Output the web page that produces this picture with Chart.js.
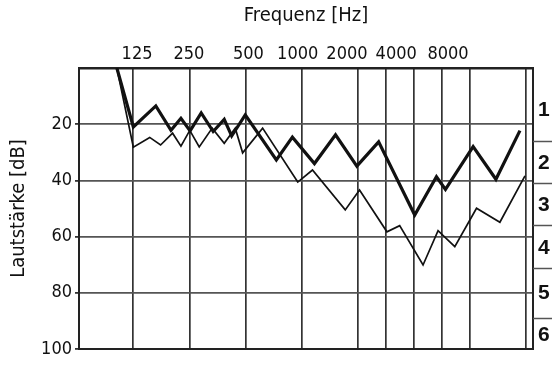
<!DOCTYPE html>
<html lang="de">
<head>
<meta charset="UTF-8">
<title>Audiogramm</title>
<script src="https://cdn.jsdelivr.net/npm/chart.js"></script>
<style>
    body { margin: 0; background: #ffffff; }
    canvas { display: block; }
</style>
</head>
<body>
<canvas id="chart" width="560" height="381"></canvas>
<script>
    // Frequenzen (Hz) und Pegel (dB) der beiden Kurven
    const boldFreq = [102, 125, 165, 199, 225, 252, 289, 335, 384, 421, 498, 731, 891, 1170, 1518, 1975, 2585, 4036, 5278, 5900, 8303, 11000, 14800];
    const boldDb   = [0, 21, 13.5, 22.2, 17.9, 22.4, 16, 22.6, 18.3, 24.2, 16.7, 32.7, 24.6, 34, 23.8, 34.9, 26.3, 52.3, 38.7, 43.2, 28, 39.6, 22.3];
    const thinFreq = [102, 125, 153, 175, 203, 225, 251, 282, 331, 384, 440, 482, 617, 952, 1142, 1711, 2042, 2864, 3352, 4473, 5384, 6621, 8659, 11553, 15750];
    const thinDb   = [0, 28.2, 24.7, 27.4, 23.2, 27.8, 22.2, 28.1, 21.4, 26.8, 21.4, 30.2, 21.4, 40.6, 36.3, 50.5, 43.4, 58.3, 56.1, 70.1, 57.9, 63.6, 49.9, 54.9, 38.4];

    // Achsen
    const gridFreqs  = [125, 250, 500, 1000, 2000, 2830, 4000, 5660, 8000, 16000];
    const freqLabels = ['125', '250', '500', '1000', '2000', '4000', '8000'];
    const freqLabelSlots = [0, 1, 2.15, 3.1, 4.05, 5, 6];   // Lage der Beschriftungen oben
    const dbTicks    = [20, 40, 60, 80, 100];
    const gradeLabels = ['1', '2', '3', '4', '5', '6'];
    const gradeLabelDb = [15, 34, 49, 64, 80, 95];
    const gradeBounds  = [26, 41, 56, 71, 89];

    const FONT = "'Liberation Sans Narrow', 'DejaVu Sans Condensed', 'Liberation Sans', sans-serif";
    const INK = '#111111';

    const toPoints = (xs, ys) => xs.map((x, i) => ({ x: x, y: ys[i] }));

    // kurze Striche rechts neben dem Diagramm (Grenzen der Stufen 1-6)
    const gradeMarks = {
        id: 'gradeMarks',
        afterDraw(chart) {
            const ctx = chart.ctx;
            const area = chart.chartArea;
            const y = chart.scales.y;
            ctx.save();
            ctx.strokeStyle = '#555555';
            ctx.lineWidth = 1.5;
            gradeBounds.forEach(b => {
                const py = Math.round(y.getPixelForValue(b)) + 0.5;
                ctx.beginPath();
                ctx.moveTo(area.right, py);
                ctx.lineTo(area.right + 19, py);
                ctx.stroke();
            });
            ctx.restore();
        }
    };

    new Chart(document.getElementById('chart').getContext('2d'), {
        type: 'line',
        data: {
            datasets: [{
                data: toPoints(boldFreq, boldDb),
                borderColor: INK,
                borderWidth: 3.2,
                pointRadius: 0,
                tension: 0,
                xAxisID: 'x',
                yAxisID: 'y'
            }, {
                data: toPoints(thinFreq, thinDb),
                borderColor: INK,
                borderWidth: 1.7,
                pointRadius: 0,
                tension: 0,
                xAxisID: 'x',
                yAxisID: 'y'
            }]
        },
        options: {
            responsive: false,
            animation: false,
            devicePixelRatio: 1,
            plugins: {
                legend: { display: false },
                tooltip: { enabled: false }
            },
            scales: {
                x: {
                    type: 'logarithmic',
                    position: 'bottom',
                    min: 63.9,
                    max: 17390,
                    afterBuildTicks: s => { s.ticks = gridFreqs.map(v => ({ value: v })); },
                    afterFit: s => { s.height = 32; },
                    ticks: { display: false, autoSkip: false },
                    grid: { color: '#333333', lineWidth: 1.7, drawTicks: false },
                    border: { display: true, color: '#222222', width: 2 }
                },
                xTop: {
                    type: 'linear',
                    position: 'top',
                    min: -1.12,
                    max: 7.64,
                    afterBuildTicks: s => { s.ticks = freqLabelSlots.map(v => ({ value: v })); },
                    afterFit: s => { s.height = 68; },
                    ticks: {
                        autoSkip: false,
                        maxRotation: 0,
                        padding: 3,
                        color: INK,
                        font: { family: FONT, size: 18 },
                        callback: (v, i) => freqLabels[i]
                    },
                    grid: { display: false, drawTicks: false },
                    border: { display: true, color: '#222222', width: 2.5 },
                    title: {
                        display: true,
                        text: 'Frequenz [Hz]',
                        color: INK,
                        font: { family: FONT, size: 20 },
                        padding: { top: 4, bottom: 0 }
                    }
                },
                y: {
                    type: 'linear',
                    position: 'left',
                    reverse: true,
                    min: 0,
                    max: 100,
                    afterBuildTicks: s => { s.ticks = dbTicks.map(v => ({ value: v })); },
                    afterFit: s => { s.width = 79; },
                    ticks: {
                        autoSkip: false,
                        padding: 3,
                        color: INK,
                        font: { family: FONT, size: 18 }
                    },
                    grid: { color: '#555555', lineWidth: 1.8, tickLength: 4, tickColor: '#333333' },
                    border: { display: true, color: '#222222', width: 2 },
                    title: {
                        display: true,
                        text: 'Lautstärke [dB]',
                        color: INK,
                        font: { family: FONT, size: 20 },
                        padding: { top: 7, bottom: 0 }
                    }
                },
                y2: {
                    type: 'linear',
                    position: 'right',
                    reverse: true,
                    min: 0,
                    max: 100,
                    afterBuildTicks: s => { s.ticks = gradeLabelDb.map(v => ({ value: v })); },
                    afterFit: s => { s.width = 27; },
                    ticks: {
                        autoSkip: false,
                        padding: 5,
                        color: INK,
                        font: { family: "'Liberation Sans', Arial, sans-serif", size: 21, weight: 'bold' },
                        callback: (v, i) => gradeLabels[i]
                    },
                    grid: { display: false, drawTicks: false },
                    border: { display: true, color: '#222222', width: 2 }
                }
            }
        },
        plugins: [gradeMarks]
    });
</script>
</body>
</html>
